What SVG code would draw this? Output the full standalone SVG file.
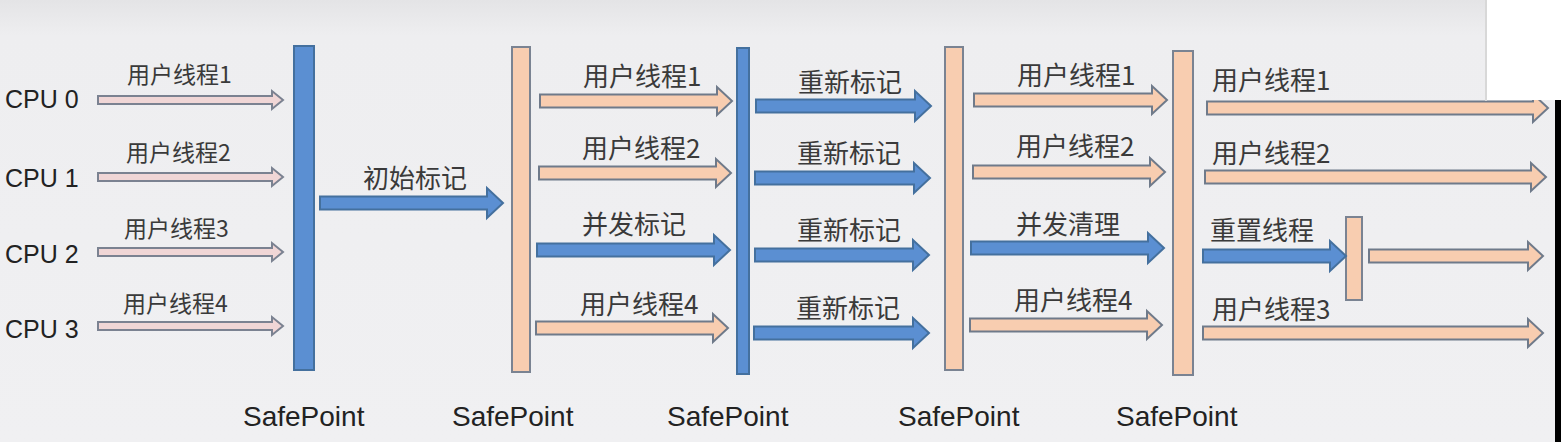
<svg xmlns="http://www.w3.org/2000/svg" width="1561" height="442" viewBox="0 0 1561 442">
<defs>
<linearGradient id="bg" x1="0" y1="0" x2="0" y2="1">
<stop offset="0" stop-color="#e4e4e6"/>
<stop offset="0.08" stop-color="#eeeef0"/>
<stop offset="1" stop-color="#f0f0f2"/>
</linearGradient>
</defs>
<style>
.thin{fill:#f0d6d6;stroke:#7b8291;stroke-width:2}
.peach{fill:#f8cdb0;stroke:#6f7a8a;stroke-width:2}
.blue{fill:#5b8fd2;stroke:#44709e;stroke-width:2}
.bar-b{fill:#5b8fd2;stroke:#44709e;stroke-width:2}
.bar-p{fill:#f8cdb0;stroke:#7a8392;stroke-width:2}
.cpu{font-family:"Liberation Sans","Noto Sans",sans-serif;font-size:25px;fill:#222}
.lbl{font-family:"Noto Sans CJK SC","Noto Sans",sans-serif;font-size:26px;fill:#3a3a3a}
.lbl1{font-family:"Noto Sans CJK SC","Noto Sans",sans-serif;font-size:23px;fill:#3a3a3a}
.sp{font-family:"Liberation Sans","Noto Sans",sans-serif;font-size:28px;fill:#222}
</style>
<rect x="0" y="0" width="1561" height="442" fill="url(#bg)"/>

<g id="cpu0"><text class="cpu" x="5" y="108">CPU 0</text></g>
<g id="cpu1"><text class="cpu" x="5" y="187">CPU 1</text></g>
<g id="cpu2"><text class="cpu" x="5" y="263">CPU 2</text></g>
<g id="cpu3"><text class="cpu" x="5" y="338">CPU 3</text></g>

<g id="safepoint1"><rect class="bar-b" x="294" y="46" width="20" height="324"/><text class="sp" x="243" y="426">SafePoint</text></g>
<g id="safepoint2"><rect class="bar-p" x="512" y="47" width="18" height="325"/><text class="sp" x="452" y="426">SafePoint</text></g>
<g id="safepoint3"><rect class="bar-b" x="737" y="48" width="12" height="326"/><text class="sp" x="667" y="426">SafePoint</text></g>
<g id="safepoint4"><rect class="bar-p" x="945" y="47" width="18" height="323"/><text class="sp" x="898" y="426">SafePoint</text></g>
<g id="safepoint5"><rect class="bar-p" x="1173" y="51" width="20" height="324"/><text class="sp" x="1116" y="426">SafePoint</text></g>
<g id="reset-barrier"><rect class="bar-p" x="1346" y="217" width="16" height="83"/></g>

<g id="connectors">
<path class="thin" d="M98 96 H272 V91 L283 100 L272 109 V104 H98 Z"/>
<path class="thin" d="M98 173 H272 V168 L283 177 L272 186 V181 H98 Z"/>
<path class="thin" d="M98 248 H272 V243 L283 252 L272 261 V256 H98 Z"/>
<path class="thin" d="M98 322 H272 V317 L283 326 L272 335 V330 H98 Z"/>

<path class="blue" d="M320 196.5 H487 V188 L503 203 L487 218 V209.5 H320 Z"/>

<path class="peach" d="M540 94.5 H717 V87 L732 101 L717 115 V107.5 H540 Z"/>
<path class="peach" d="M539 166.5 H716 V159 L731 173 L716 187 V179.5 H539 Z"/>
<path class="blue" d="M537 243.5 H714 V235 L730 250 L714 265 V256.5 H537 Z"/>
<path class="peach" d="M536 321.5 H713 V314 L728 328 L713 342 V334.5 H536 Z"/>

<path class="blue" d="M756 99.5 H915 V91 L931 106 L915 121 V112.5 H756 Z"/>
<path class="blue" d="M755 171.5 H914 V163 L930 178 L914 193 V184.5 H755 Z"/>
<path class="blue" d="M755 248.5 H913 V240 L929 255 L913 270 V261.5 H755 Z"/>
<path class="blue" d="M754 326.5 H913 V318 L929 333 L913 348 V339.5 H754 Z"/>

<path class="peach" d="M974 93.5 H1152 V86 L1167 100 L1152 114 V106.5 H974 Z"/>
<path class="peach" d="M973 165.5 H1150 V158 L1165 172 L1150 186 V178.5 H973 Z"/>
<path class="blue" d="M971 241.5 H1148 V233 L1164 248 L1148 263 V254.5 H971 Z"/>
<path class="peach" d="M970 318.5 H1147 V311 L1162 325 L1147 339 V331.5 H970 Z"/>

<path class="peach" d="M1207 101.5 H1533 V94 L1548 108 L1533 122 V114.5 H1207 Z"/>
<path class="peach" d="M1205 170.5 H1531 V163 L1546 177 L1531 191 V183.5 H1205 Z"/>
<path class="blue" d="M1203 249.5 H1330 V241 L1346 256 L1330 271 V262.5 H1203 Z"/>
<path class="peach" d="M1369 249.5 H1528 V242 L1543 256 L1528 270 V262.5 H1369 Z"/>
<path class="peach" d="M1203 326.5 H1528 V319 L1543 333 L1528 347 V339.5 H1203 Z"/>

<text class="lbl1" x="127" y="83">用户线程1</text>
<text class="lbl1" x="126" y="161">用户线程2</text>
<text class="lbl1" x="124" y="237">用户线程3</text>
<text class="lbl1" x="123" y="312">用户线程4</text>

<text class="lbl" x="363" y="188">初始标记</text>

<text class="lbl" x="583" y="86">用户线程1</text>
<text class="lbl" x="582" y="158">用户线程2</text>
<text class="lbl" x="582" y="234">并发标记</text>
<text class="lbl" x="580" y="314">用户线程4</text>

<text class="lbl" x="798" y="92">重新标记</text>
<text class="lbl" x="797" y="163">重新标记</text>
<text class="lbl" x="797" y="240">重新标记</text>
<text class="lbl" x="796" y="318">重新标记</text>

<text class="lbl" x="1017" y="85">用户线程1</text>
<text class="lbl" x="1016" y="156">用户线程2</text>
<text class="lbl" x="1016" y="234">并发清理</text>
<text class="lbl" x="1014" y="310">用户线程4</text>

<text class="lbl" x="1212" y="90">用户线程1</text>
<text class="lbl" x="1212" y="163">用户线程2</text>
<text class="lbl" x="1210" y="240">重置线程</text>
<text class="lbl" x="1212" y="319">用户线程3</text>
</g>

<rect x="1485" y="0" width="2" height="101" fill="#d8d8d8"/>
<rect x="1487" y="0" width="74" height="100" fill="#ffffff"/>
<rect x="1555" y="100" width="6" height="342" fill="#000000"/>
</svg>
